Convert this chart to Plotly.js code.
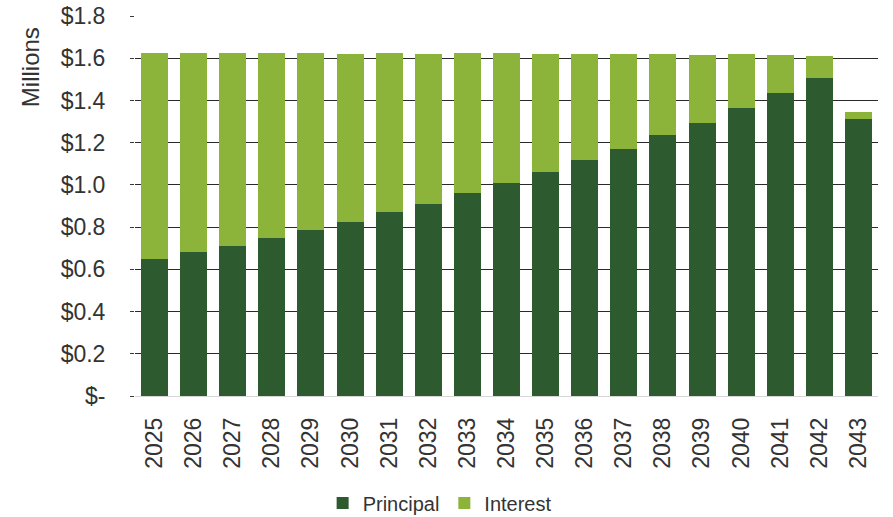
<!DOCTYPE html>
<html>
<head>
<meta charset="utf-8">
<script src="https://cdn.plot.ly/plotly-3.0.1.min.js"></script>
<style>html,body{margin:0;padding:0;background:#fff;}#chart{width:893px;height:517px;}</style>
</head>
<body>
<div id="chart"></div>
<script>
const years = ["2025","2026","2027","2028","2029","2030","2031","2032","2033","2034","2035","2036","2037","2038","2039","2040","2041","2042","2043"];
const principal = [0.649,0.681,0.712,0.749,0.787,0.823,0.872,0.911,0.960,1.009,1.063,1.117,1.170,1.237,1.294,1.365,1.436,1.507,1.313];
const interest  = [0.976,0.944,0.913,0.876,0.838,0.797,0.753,0.711,0.665,0.616,0.559,0.503,0.448,0.383,0.321,0.253,0.180,0.104,0.033];
const yTickVals = [0,0.2,0.4,0.6,0.8,1.0,1.2,1.4,1.6,1.8];
const yTickText = ["$-","$0.2","$0.4","$0.6","$0.8","$1.0","$1.2","$1.4","$1.6","$1.8"];

const font = "Liberation Sans, Arial, sans-serif";
const data = [
  {type:"bar", name:"Principal", x:years, y:principal, marker:{color:"#2d5b2f"}},
  {type:"bar", name:"Interest", x:years, y:interest, marker:{color:"#8cb43a"}}
];
const layout = {
  width:893, height:517,
  margin:{l:135, r:15, t:16, b:121},
  paper_bgcolor:"#fff", plot_bgcolor:"#fff",
  barmode:"stack", bargap:0.31,
  font:{family:font, color:"#333", size:23},
  xaxis:{type:"category", tickangle:-90, tickfont:{size:23, color:"#333"}, showgrid:false, showline:false, ticks:"", ticklabelstandoff:16, automargin:false},
  yaxis:{range:[0,1.8], tickvals:yTickVals, ticktext:yTickText, showgrid:true, gridcolor:"#2a2a2a", gridwidth:1,
         zeroline:true, zerolinecolor:"#d6d6d6", zerolinewidth:1, ticks:"outside", ticklen:4, tickcolor:"#3a3a3a",
         tickfont:{size:23, color:"#333"}, ticklabelstandoff:20, showline:false, automargin:false},
  showlegend:true,
  legend:{orientation:"h", x:0.41, xanchor:"center", yref:"container", y:0.027, yanchor:"middle", font:{size:20, color:"#333"}, traceorder:"normal", itemwidth:30},
  annotations:[{text:"Millions", xref:"paper", yref:"paper", x:-0.1415, y:0.865, textangle:-90, showarrow:false, font:{size:24, color:"#333"}, xanchor:"center", yanchor:"middle"}]
};
Plotly.newPlot("chart", data, layout, {displayModeBar:false, staticPlot:true});
</script>
</body>
</html>
